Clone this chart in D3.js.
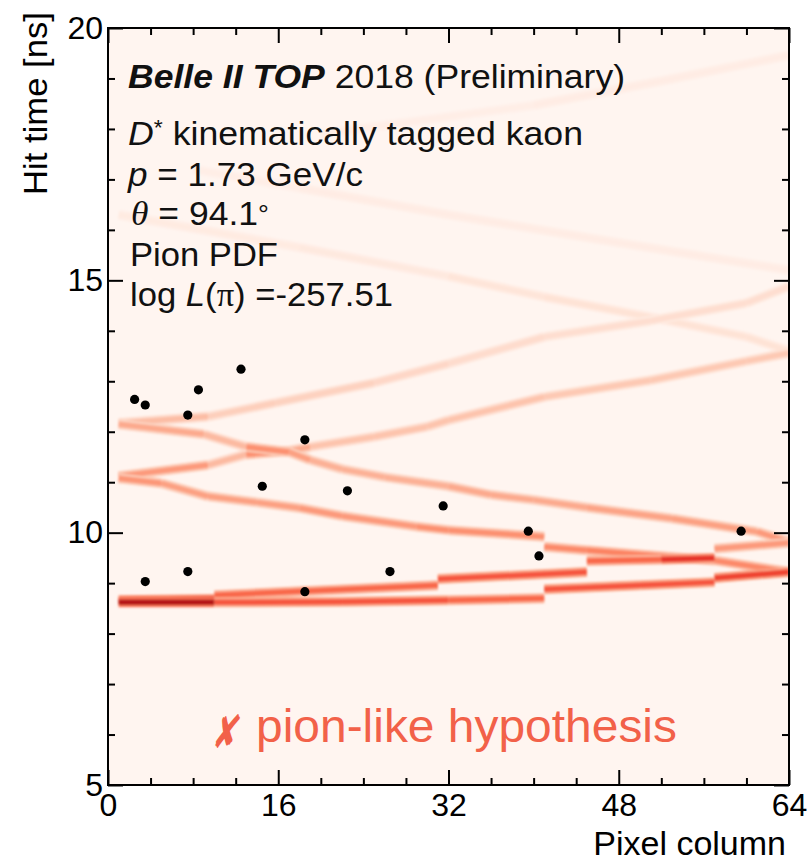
<!DOCTYPE html>
<html>
<head>
<meta charset="utf-8">
<script src="https://cdn.jsdelivr.net/npm/d3@7"></script>
<style>
  body { margin: 0; background: #ffffff; }
  svg { display: block; }
  text { font-family: "Liberation Sans", Arial, Helvetica, sans-serif; }
</style>
</head>
<body>
<svg id="chart" width="807" height="863"></svg>
<script>
// Recorded hits: pixel column (bin centre) and hit time [ns]
const hitColumns = [2.5, 3.5, 7.5, 8.5, 12.5, 3.5, 7.5, 14.5, 18.5, 18.5, 22.5, 26.5, 31.5, 39.5, 40.5, 59.5];
const hitTimes   = [12.64, 12.53, 12.33, 12.83, 13.24, 9.03, 9.23, 10.92, 11.84, 8.83, 10.83, 9.23, 10.53, 10.03, 9.54, 10.03];

// Pion PDF ridges: [pixel column, time ns, density of the segment that starts here]
// Two knots on the same column mark a step between time bins.
const bandA = [[1, 8.62, 0.82], [10, 8.62, 0.55], [22, 8.63, 0.55], [32, 8.66, 0.5], [41, 8.70, 0.5],
               [41, 8.88, 0.55], [50, 8.96, 0.55], [57, 9.02, 0.5], [57, 9.10, 0.6], [64, 9.22, 0.6]];
const bandB = [[1, 8.66, 0.7], [10, 8.68, 0.6], [10, 8.76, 0.5], [31, 8.96, 0.5], [31, 9.08, 0.55],
               [45, 9.22, 0.55], [45, 9.44, 0.5], [52, 9.47, 0.65], [57, 9.50, 0.45], [57, 9.68, 0.35], [64, 9.80, 0.5]];
const bandC = [[1, 11.08, 0.36], [5, 10.98, 0.33], [9.4, 10.72, 0.33], [14, 10.60, 0.33], [18, 10.49, 0.35],
               [22, 10.33, 0.35], [29, 10.12, 0.38], [32, 10.05, 0.38], [41, 9.92, 0.38],
               [41, 9.72, 0.4], [45, 9.65, 0.42], [57, 9.45, 0.4], [64, 9.22, 0.5]];
const bandD = [[1, 12.15, 0.3], [9, 11.95, 0.25], [13, 11.70, 0.38], [17, 11.60, 0.33], [19, 11.44, 0.28],
               [22, 11.26, 0.28], [26, 11.10, 0.28], [32, 10.92, 0.3], [36, 10.75, 0.3], [40, 10.65, 0.3],
               [45, 10.50, 0.32], [53, 10.28, 0.33], [61, 10.02, 0.35], [64, 9.82, 0.4]];
const bandE = [[1, 11.12, 0.35], [9.4, 11.34, 0.25], [13, 11.55, 0.38], [17, 11.62, 0.3], [19, 11.70, 0.22],
               [25, 11.90, 0.22], [30, 12.10, 0.22], [32, 12.23, 0.22], [41, 12.69, 0.2], [51, 13.02, 0.2],
               [60, 13.40, 0.2], [64, 13.56, 0.2]];
const bandF = [[1, 12.17, 0.24], [9.4, 12.30, 0.18], [15.7, 12.57, 0.17], [25, 12.97, 0.15], [32, 13.35, 0.13],
               [41, 13.88, 0.12], [51, 14.20, 0.12], [60, 14.55, 0.12], [64, 14.88, 0.12]];
const bandG = [[1, 16.30, 0.06], [18, 15.65, 0.07], [32, 15.08, 0.09], [41, 14.67, 0.1], [51, 14.27, 0.1],
               [60, 13.88, 0.1], [64, 13.60, 0.1]];
const bandH = [[8, 17.20, 0.04], [18, 16.83, 0.05], [32, 16.30, 0.05], [47, 15.78, 0.05], [64, 15.20, 0.05]];
const bandI = [[20, 17.90, 0.04], [40, 18.47, 0.05], [52, 18.95, 0.05], [64, 19.46, 0.05]];
const bands = [bandI, bandH, bandG, bandF, bandE, bandD, bandC, bandB, bandA];

// Axis ticks and labels
const xMajorTicks = [0, 16, 32, 48, 64];
const xMinorTicks = [4, 8, 12, 20, 24, 28, 36, 40, 44, 52, 56, 60];
const yMajorTicks = [5, 10, 15, 20];
const yMinorTicks = [6, 7, 8, 9, 11, 12, 13, 14, 16, 17, 18, 19];
const xTitle = "Pixel column";
const yTitle = "Hit time [ns]";

const plot = { left: 108, right: 789, top: 28, bottom: 785 };

const svg = d3.select("#chart");
const x = d3.scaleLinear().domain([0, 64]).range([plot.left, plot.right]);
const y = d3.scaleLinear().domain([5, 20]).range([plot.bottom, plot.top]);
const color = d3.scaleSequential(d3.interpolateReds).domain([0, 1]);

const defs = svg.append("defs");
defs.append("clipPath").attr("id", "plot-clip")
  .append("rect")
  .attr("x", plot.left).attr("y", plot.top)
  .attr("width", plot.right - plot.left).attr("height", plot.bottom - plot.top);
defs.append("filter").attr("id", "soft")
  .attr("x", "-5%").attr("y", "-5%").attr("width", "110%").attr("height", "110%")
  .append("feGaussianBlur").attr("stdDeviation", 0.8);

// Histogram floor colour
svg.append("rect")
  .attr("x", plot.left).attr("y", plot.top)
  .attr("width", plot.right - plot.left).attr("height", plot.bottom - plot.top)
  .attr("fill", color(0));

// PDF ridges
const pdf = svg.append("g").attr("clip-path", "url(#plot-clip)")
  .append("g").attr("filter", "url(#soft)");

function segments(band) {
  const out = [];
  for (let i = 0; i < band.length - 1; i++) {
    const a = band[i], b = band[i + 1];
    if (a[0] === b[0]) continue; // step between bins
    out.push({ x1: a[0], t1: a[1], x2: b[0], t2: b[1], level: a[2] });
  }
  return out;
}

bands.forEach(band => {
  const segs = segments(band);
  const g = pdf.append("g");
  g.selectAll("line.halo").data(segs).join("line")
    .attr("class", "halo")
    .attr("x1", d => x(d.x1)).attr("y1", d => y(d.t1))
    .attr("x2", d => x(d.x2)).attr("y2", d => y(d.t2))
    .attr("stroke", d => color(d.level * 0.55))
    .attr("stroke-width", 10);
  g.selectAll("line.core").data(segs).join("line")
    .attr("class", "core")
    .attr("x1", d => x(d.x1)).attr("y1", d => y(d.t1))
    .attr("x2", d => x(d.x2)).attr("y2", d => y(d.t2))
    .attr("stroke", d => color(d.level))
    .attr("stroke-width", 5.5);
});

// Axes with mirrored ticks on all four sides
function styleAxis(g) {
  g.select(".domain").remove();
  g.selectAll(".tick line").attr("stroke", "#000").attr("stroke-width", 2);
  g.selectAll(".tick text")
    .attr("fill", "#000")
    .attr("font-size", 32)
    .attr("font-family", "'Liberation Sans', Arial, sans-serif");
}

const axes = svg.append("g");
axes.append("g").attr("transform", `translate(0,${plot.bottom})`)
  .call(d3.axisBottom(x).tickValues(xMinorTicks).tickSize(-7).tickFormat(""))
  .call(styleAxis);
axes.append("g").attr("transform", `translate(0,${plot.bottom})`)
  .call(d3.axisBottom(x).tickValues(xMajorTicks).tickSize(-15).tickPadding(8).tickFormat(d3.format("d")))
  .call(styleAxis);
axes.append("g").attr("transform", `translate(0,${plot.top})`)
  .call(d3.axisTop(x).tickValues(xMinorTicks).tickSize(-7).tickFormat(""))
  .call(styleAxis);
axes.append("g").attr("transform", `translate(0,${plot.top})`)
  .call(d3.axisTop(x).tickValues(xMajorTicks).tickSize(-15).tickFormat(""))
  .call(styleAxis);
axes.append("g").attr("transform", `translate(${plot.left},0)`)
  .call(d3.axisLeft(y).tickValues(yMinorTicks).tickSize(-7).tickFormat(""))
  .call(styleAxis);
axes.append("g").attr("transform", `translate(${plot.left},0)`)
  .call(d3.axisLeft(y).tickValues(yMajorTicks).tickSize(-15).tickPadding(5).tickFormat(d3.format("d")))
  .call(styleAxis);
axes.append("g").attr("transform", `translate(${plot.right},0)`)
  .call(d3.axisRight(y).tickValues(yMinorTicks).tickSize(-7).tickFormat(""))
  .call(styleAxis);
axes.append("g").attr("transform", `translate(${plot.right},0)`)
  .call(d3.axisRight(y).tickValues(yMajorTicks).tickSize(-15).tickFormat(""))
  .call(styleAxis);

// Frame
svg.append("rect")
  .attr("x", plot.left).attr("y", plot.top)
  .attr("width", plot.right - plot.left).attr("height", plot.bottom - plot.top)
  .attr("fill", "none").attr("stroke", "#000").attr("stroke-width", 2);

// Axis titles
svg.append("text")
  .attr("x", 786).attr("y", 855)
  .attr("text-anchor", "end")
  .attr("font-size", 34)
  .text(xTitle);
svg.append("text")
  .attr("transform", "translate(47,12) rotate(-90)")
  .attr("text-anchor", "end")
  .attr("font-size", 34)
  .attr("textLength", 183).attr("lengthAdjust", "spacingAndGlyphs")
  .text(yTitle);

// Annotation block
const info = svg.append("g").attr("font-size", 34).attr("fill", "#111");
function infoLine(xPos, baseline, width, parts) {
  const t = info.append("text").attr("x", xPos).attr("y", baseline)
    .attr("textLength", width).attr("lengthAdjust", "spacingAndGlyphs");
  parts.forEach(p => {
    const s = t.append("tspan").text(p.text);
    if (p.italic) s.attr("font-style", "italic");
    if (p.bold) s.attr("font-weight", "bold");
    if (p.serif) s.attr("font-family", "'Liberation Serif', 'DejaVu Serif', serif");
    if (p.size) s.attr("font-size", p.size);
    if (p.dy) s.attr("dy", p.dy);
  });
  return t;
}
infoLine(128, 88, 497, [{ text: "Belle II TOP", italic: true, bold: true }, { text: " 2018 (Preliminary)" }]);
infoLine(128, 145, 455, [{ text: "D", italic: true }, { text: "*", size: 22, dy: -10 }, { text: " kinematically tagged kaon", dy: 10 }]);
infoLine(128, 186, 235, [{ text: "p", italic: true }, { text: " = 1.73 GeV/c" }]);
infoLine(131, 225, 138, [{ text: "θ", italic: true, serif: true }, { text: " = 94.1" }, { text: "°", size: 26, dy: -2 }]);
infoLine(130, 266, 148, [{ text: "Pion PDF" }]);
infoLine(130, 306, 263, [{ text: "log" }, { text: " L", italic: true }, { text: "(" }, { text: "π", serif: true }, { text: ") =-257.51" }]);

// Hypothesis verdict
const verdict = svg.append("g").attr("fill", "#f26149");
verdict.append("text")
  .attr("transform", "translate(211,748) skewX(-12)")
  .attr("font-size", 46)
  .attr("font-family", "'DejaVu Sans', sans-serif")
  .attr("textLength", 25).attr("lengthAdjust", "spacingAndGlyphs")
  .text("✘");
verdict.append("text")
  .attr("x", 256).attr("y", 742)
  .attr("font-size", 47)
  .attr("textLength", 421).attr("lengthAdjust", "spacingAndGlyphs")
  .text("pion-like hypothesis");

// Hits
svg.append("g").selectAll("circle")
  .data(hitColumns.map((c, i) => ({ col: c, t: hitTimes[i] })))
  .join("circle")
  .attr("cx", d => x(d.col))
  .attr("cy", d => y(d.t))
  .attr("r", 4.6)
  .attr("fill", "#000");
</script>
</body>
</html>
